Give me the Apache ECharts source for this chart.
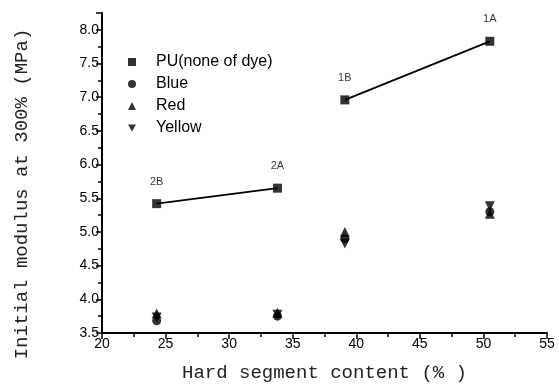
<!DOCTYPE html>
<html>
<head>
<meta charset="utf-8">
<script src="https://cdn.jsdelivr.net/npm/echarts@6/dist/echarts.min.js"></script>
<style>
  html, body { margin: 0; padding: 0; background: #fff; }
  #chart { width: 559px; height: 390px; }
</style>
</head>
<body>
<div id="chart"></div>
<script>
// hard segment content (%) and sample names
const hardSeg = [24.3, 33.8, 39.1, 50.5]
const sampleNames = ['2B', '2A', '1B', '1A']

// initial modulus at 300% (MPa)
const puValues = [5.42, 5.65, 6.96, 7.83]
const blueValues = [3.68, 3.75, 4.90, 5.30]
const redValues = [3.79, 3.80, 5.00, 5.27]
const yellowValues = [3.73, 3.77, 4.83, 5.38]

// PU lines join each pair: 2B-2A and 1B-1A
const linePairs = [[0, 1], [2, 3]]

const pts = vals => hardSeg.map((x, i) => [x, vals[i]])

const chart = echarts.init(document.getElementById('chart'))

const markerSeries = (name, symbol, size, vals) => ({
  name,
  type: 'scatter',
  symbol,
  symbolSize: size,
  itemStyle: {color: '#000'},
  data: pts(vals),
  z: 3
})

const tickStyle = {color: '#000', width: 1.5}

const option = {
  animation: false,
  backgroundColor: '#fff',
  grid: {left: 102, right: 12, top: 13, bottom: 57},
  legend: {
    data: ['PU(none of dye)', 'Blue', 'Red', 'Yellow'],
    orient: 'vertical',
    left: 123,
    top: 49,
    itemWidth: 8,
    itemHeight: 8,
    itemGap: 6,
    textStyle: {fontFamily: 'Liberation Sans', fontSize: 16, color: '#000', padding: [0, 0, 0, 15]}
  },
  xAxis: {
    type: 'value',
    min: 20,
    max: 55,
    interval: 5,
    splitLine: {show: false},
    axisLine: {lineStyle: {color: '#000', width: 2}},
    axisTick: {inside: false, length: 6, lineStyle: tickStyle},
    minorTick: {show: true, splitNumber: 2, length: 4, lineStyle: tickStyle},
    axisLabel: {fontFamily: 'Liberation Sans', fontSize: 14, color: '#000', margin: 4},
    name: 'Hard segment content (% )',
    nameLocation: 'middle',
    nameGap: 30,
    nameTextStyle: {fontFamily: 'Liberation Mono', fontSize: 19, color: '#222'}
  },
  yAxis: {
    type: 'value',
    min: 3.5,
    max: 8.25,
    interval: 0.5,
    splitLine: {show: false},
    axisLine: {lineStyle: {color: '#000', width: 2}},
    axisTick: {inside: false, length: 6, lineStyle: tickStyle},
    minorTick: {show: true, splitNumber: 2, length: 4, lineStyle: tickStyle},
    axisLabel: {
      fontFamily: 'Liberation Sans', fontSize: 14, color: '#000', margin: 3,
      showMaxLabel: false,
      formatter: v => v.toFixed(1)
    }
  },
  graphic: [{
    type: 'text',
    x: 22,
    y: 194,
    rotation: Math.PI / 2,
    style: {
      text: 'Initial modulus at 300% (MPa)',
      fontFamily: 'Liberation Mono',
      fontSize: 19,
      fill: '#222',
      align: 'center',
      verticalAlign: 'middle'
    }
  }],
  series: [
    ...linePairs.map(pair => ({
      type: 'line',
      silent: true,
      symbol: 'none',
      lineStyle: {color: '#000', width: 1.8},
      data: pair.map(i => [hardSeg[i], puValues[i]]),
      z: 2
    })),
    {
      ...markerSeries('PU(none of dye)', 'rect', 9, puValues),
      data: hardSeg.map((x, i) => ({value: [x, puValues[i]], name: sampleNames[i]})),
      label: {
        show: true,
        position: 'top',
        distance: 12,
        formatter: p => p.name,
        fontFamily: 'Liberation Sans',
        fontSize: 11,
        color: '#000'
      }
    },
    markerSeries('Blue', 'circle', 9, blueValues),
    markerSeries('Red', 'triangle', 10, redValues),
    markerSeries('Yellow', 'path://M0,0 L10,0 L5,9 Z', 10, yellowValues)
  ]
}

chart.setOption(option)
</script>
</body>
</html>
